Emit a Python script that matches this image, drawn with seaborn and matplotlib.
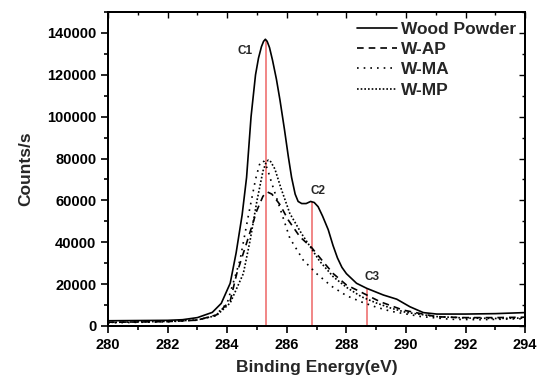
import numpy as np
import pandas as pd
import matplotlib
matplotlib.use("Agg")
import matplotlib.pyplot as plt
import seaborn as sns
from matplotlib.ticker import MultipleLocator

# XPS C1s spectra
wood_be = [280.0, 281.0, 282.0, 282.5, 283.0, 283.5, 283.8, 284.1, 284.3, 284.5,
           284.65, 284.8, 284.95, 285.05, 285.15, 285.22, 285.28, 285.34, 285.42,
           285.52, 285.65, 285.77, 285.92, 286.05, 286.16, 286.28, 286.38, 286.5,
           286.65, 286.8, 286.92, 287.05, 287.2, 287.39, 287.55, 287.7, 287.85,
           288.0, 288.34, 288.68, 289.24, 289.69, 290.13, 290.58, 291.03, 292.0,
           293.0, 294.0]
wood_cps = [2500, 2600, 2700, 3000, 4000, 6500, 10800, 20400, 35000, 53000,
            71000, 100000, 120000, 128000, 133500, 136000, 137000, 136000, 133000,
            127000, 118000, 108000, 94000, 81000, 71000, 63000, 59500, 58500,
            58500, 59500, 59000, 57000, 52500, 46000, 38500, 32500, 28000,
            25000, 20400, 18000, 14800, 12800, 9200, 6400, 5700, 5700,
            5900, 6400]

ap_be = [280.0, 281.0, 282.0, 283.0, 283.64, 284.1, 284.32, 284.65, 284.99, 285.2,
         285.35, 285.5, 285.77, 286.05, 286.44, 286.83, 287.22, 287.56, 288.0,
         288.46, 289.13, 289.9, 291.03, 292.0, 293.0, 294.0]
ap_cps = [1800, 1900, 2100, 2800, 5300, 12000, 25000, 39600, 55000, 62000,
          64000, 63000, 58000, 50600, 42600, 37500, 30700, 25000, 19600,
          16400, 11600, 7600, 4400, 4000, 4000, 4200]

ma_be = [280.0, 282.0, 283.0, 283.6, 284.0, 284.43, 284.7, 284.95, 285.08, 285.16,
         285.24, 285.35, 285.5, 285.8, 286.1, 286.55, 287.0, 287.5, 288.0, 288.5,
         289.0, 289.5, 290.5, 291.5, 292.5, 294.0]
ma_cps = [1500, 2000, 2800, 5000, 11000, 31500, 52000, 70000, 77000, 79000,
          78500, 75000, 68000, 55000, 42000, 31500, 25000, 19000, 14500, 11500,
          9000, 7000, 4500, 3200, 3000, 3500]

mp_be = [280.0, 282.0, 283.0, 283.64, 284.1, 284.54, 284.77, 285.0, 285.2, 285.3,
         285.38, 285.46, 285.6, 285.8, 286.1, 286.5, 286.78, 287.1, 287.56, 288.0,
         288.5, 289.0, 289.5, 290.0, 291.0, 292.0, 293.0, 294.0]
mp_cps = [1700, 2200, 2900, 5000, 11000, 25000, 41000, 60000, 74000, 78000,
          79300, 78500, 75000, 66000, 53800, 44000, 38000, 31000, 23500, 18500,
          14000, 11000, 8500, 6500, 4500, 3800, 3600, 3800]

# peak markers
peak_names = ["C1", "C2", "C3"]
peak_be = [285.3, 286.85, 288.7]
peak_top = [136800, 59300, 17800]
label_x = [284.6, 287.05, 288.85]
label_y = [131500, 64500, 23500]

series = [
    ("Wood Powder", wood_be, wood_cps, "-"),
    ("W-AP", ap_be, ap_cps, (0, (4, 3))),
    ("W-MA", ma_be, ma_cps, (0, (1, 3))),
    ("W-MP", mp_be, mp_cps, (0, (1, 1.2))),
]

sns.set_style("ticks")
plt.rcParams['font.family'] = ['Liberation Sans', 'DejaVu Sans']
plt.rcParams['font.weight'] = 'bold'

fig = plt.figure(figsize=(5.39, 3.81), dpi=100)
ax = fig.add_axes([0.2004, 0.1444, 0.774, 0.824])

for name, be, cps, ls in series:
    df = pd.DataFrame({"be": be, "cps": cps})
    sns.lineplot(data=df, x="be", y="cps", ax=ax, color="black", lw=1.2,
                 linestyle=ls, label=name, sort=False)

for name, xb, top, lx, ly in zip(peak_names, peak_be, peak_top, label_x, label_y):
    ax.vlines(xb, 0, top, color="#ee6666", lw=1.1, zorder=1)
    ax.text(lx, ly, name, fontsize=8.5, fontweight="bold", ha="center", va="center")

ax.set_xlim(280, 294)
ax.set_ylim(0, 150000)
ax.xaxis.set_major_locator(MultipleLocator(2))
ax.xaxis.set_minor_locator(MultipleLocator(1))
ax.set_yticks(np.arange(0, 140001, 20000))
ax.yaxis.set_minor_locator(MultipleLocator(10000))

ax.tick_params(which="both", direction="out", width=1.2, labelsize=10.5, colors="black")
ax.tick_params(which="major", length=5)
ax.tick_params(which="minor", length=3)
for lab in ax.get_xticklabels() + ax.get_yticklabels():
    lab.set_fontweight("bold")

# mirrored inner ticks on top and right
tx = ax.twiny()
tx.set_xlim(ax.get_xlim())
tx.xaxis.set_major_locator(MultipleLocator(2))
tx.xaxis.set_minor_locator(MultipleLocator(1))
tx.tick_params(which="both", direction="in", labeltop=False, width=1.0, colors="black")
tx.tick_params(which="major", length=4)
tx.tick_params(which="minor", length=2.5)
ty = ax.twinx()
ty.set_ylim(ax.get_ylim())
ty.set_yticks(np.arange(0, 140001, 20000))
ty.yaxis.set_minor_locator(MultipleLocator(10000))
ty.tick_params(which="both", direction="in", labelright=False, width=1.0, colors="black")
ty.tick_params(which="major", length=4)
ty.tick_params(which="minor", length=2.5)
for a in (ax, tx, ty):
    for sp in a.spines.values():
        sp.set_visible(True)
        sp.set_linewidth(1.3)
        sp.set_color("black")

ax.set_xlabel("Binding Energy(eV)", fontsize=12.5, fontweight="bold", labelpad=6)
ax.set_ylabel("Counts/s", fontsize=12.5, fontweight="bold", labelpad=10)

leg = ax.legend(loc="upper right", frameon=False, fontsize=12.5, handlelength=2.3,
                handletextpad=0.2, labelspacing=0.3, borderaxespad=0.15)
for t in leg.get_texts():
    t.set_fontweight("bold")

fig.savefig("out.png", dpi=100)
